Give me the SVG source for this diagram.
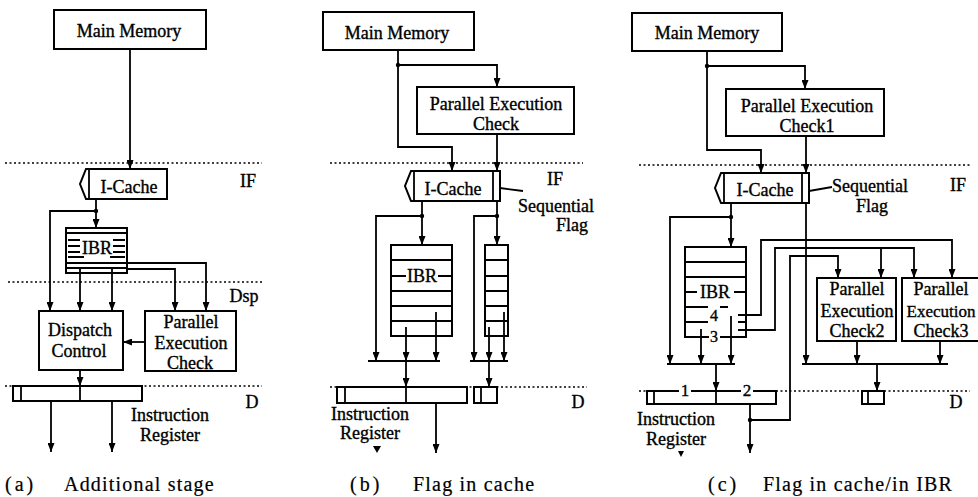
<svg xmlns="http://www.w3.org/2000/svg" width="978" height="497" viewBox="0 0 978 497">
<defs>
<style>
.box{fill:none;stroke:#000;stroke-width:2}
.ln{fill:none;stroke:#000;stroke-width:1.8}
.arr{marker-end:url(#ah)}
.dl{fill:none;stroke:#000;stroke-width:1.5;stroke-dasharray:2 2.5}
text{font-family:"Liberation Serif","Times New Roman",serif;font-size:18px;fill:#000;stroke:#000;stroke-width:0.35}
.c{text-anchor:middle}
.cap{font-size:20px;letter-spacing:1.2px;stroke-width:0.2}
.par{font-size:20px;letter-spacing:3px;stroke-width:0.2}
.dg{font-size:16px}
</style>
<marker id="ah" viewBox="0 0 9 7" refX="9" refY="3.5" markerWidth="9" markerHeight="7" markerUnits="userSpaceOnUse" orient="auto"><path d="M0,0 L9,3.5 L0,7 Z" fill="#000"/></marker>
</defs>
<rect width="978" height="497" fill="#fff"/>

<!-- stage separators -->
<g id="stage-lines">
<path class="dl" d="M5,163 H262 M8,282 H262 M5,386 H262"/>
<path class="dl" d="M330,163 H583 M330,387 H587"/>
<path class="dl" d="M639,165 H970 M639,391 H647 M776,391 H862 M884,391 H970"/>
</g>

<!-- ===== (a) ===== -->
<g id="a-mainmem"><rect class="box" x="54" y="10" width="152" height="39"/><text class="c" x="129" y="37">Main Memory</text></g>
<g id="a-icache"><polygon class="box" points="86,169 167,169 167,199 86,199 80,184"/><line class="ln" x1="89" y1="169" x2="89" y2="199"/><text class="c" x="129" y="193">I-Cache</text></g>
<g id="a-ibr"><rect class="box" x="66" y="228" width="61" height="45"/>
<path class="ln" d="M66,233 H127 M66,263 H127 M66,268 H127 M68,240 H80 M68,246 H80 M68,252 H80 M68,257 H84 M113,240 H125 M113,246 H125 M113,252 H125 M110,257 H125"/>
<text class="c" x="97" y="254">IBR</text></g>
<g id="a-dispatch"><rect class="box" x="39" y="311" width="84" height="59"/><text class="c" x="80" y="336">Dispatch</text><text class="c" x="79" y="357">Control</text></g>
<g id="a-pec"><rect class="box" x="145" y="311" width="91" height="60"/><text class="c" x="191" y="328">Parallel</text><text class="c" x="191" y="349">Execution</text><text class="c" x="190" y="369">Check</text></g>
<g id="a-ir"><rect class="box" x="13" y="386" width="129" height="15"/><line class="ln" x1="21" y1="386" x2="21" y2="401"/></g>
<g id="a-labels"><text class="c" x="170" y="421">Instruction</text><text class="c" x="170" y="441">Register</text>
<text class="c" x="248" y="187">IF</text><text class="c" x="244" y="302">Dsp</text><text class="c" x="252" y="408">D</text>
<text class="par" x="5" y="491">(a)</text><text class="cap" x="64" y="491">Additional stage</text></g>

<!-- ===== (b) ===== -->
<g id="b-mainmem"><rect class="box" x="323" y="12" width="151" height="38"/><text class="c" x="397" y="39">Main Memory</text></g>
<g id="b-pec"><rect class="box" x="417" y="87" width="157" height="47"/><text class="c" x="496" y="110">Parallel Execution</text><text class="c" x="496" y="130">Check</text></g>
<g id="b-icache"><polygon class="box" points="411,171 500,171 500,201 411,201 405,186"/><line class="ln" x1="414" y1="171" x2="414" y2="201"/><line class="ln" x1="493" y1="171" x2="493" y2="201"/><text class="c" x="453" y="195">I-Cache</text></g>
<g id="b-ibr"><rect class="box" x="391" y="245" width="61" height="91"/>
<path class="ln" d="M391,260 H452 M391,291 H452 M391,306 H452 M391,321 H452 M391,276 H406 M438,276 H452"/>
<text class="c" x="422" y="282">IBR</text></g>
<g id="b-flagstack"><rect class="box" x="485" y="245" width="23" height="91"/>
<path class="ln" d="M485,260 H508 M485,276 H508 M485,291 H508 M485,306 H508 M485,321 H508"/></g>
<g id="b-ir"><rect class="box" x="337" y="387" width="130" height="16"/><line class="ln" x1="345" y1="387" x2="345" y2="403"/></g>
<g id="b-flagreg"><rect class="box" x="474" y="387" width="23" height="16"/><line class="ln" x1="481" y1="387" x2="481" y2="403"/></g>
<g id="b-labels"><text class="c" x="370" y="420">Instruction</text><text class="c" x="370" y="439">Register</text>
<polygon points="373,446 381,446 377,453" fill="#000"/>
<text class="c" x="555" y="185">IF</text><text class="c" x="556" y="212">Sequential</text><text class="c" x="572" y="231">Flag</text><text class="c" x="578" y="408">D</text>
<text class="par" x="350" y="491">(b)</text><text class="cap" x="413" y="491">Flag in cache</text></g>

<!-- ===== (c) ===== -->
<g id="c-mainmem"><rect class="box" x="632" y="13" width="150" height="38"/><text class="c" x="707" y="39">Main Memory</text></g>
<g id="c-pec1"><rect class="box" x="726" y="89" width="158" height="47"/><text class="c" x="807" y="112">Parallel Execution</text><text class="c" x="807" y="132">Check1</text></g>
<g id="c-icache"><polygon class="box" points="721,173 809,173 809,203 721,203 715,188"/><line class="ln" x1="724" y1="173" x2="724" y2="203"/><line class="ln" x1="802" y1="173" x2="802" y2="203"/><text class="c" x="765" y="196">I-Cache</text></g>
<g id="c-ibr"><path class="box" d="M709,337 H685 V247 H746 V337 H720"/>
<path class="ln" d="M685,262 H746 M685,277 H746 M685,292 H697 M734,292 H746 M685,307 H708 M720,307 H728 M685,322 H708 M738,322 H746"/>
<text class="c" x="715" y="298">IBR</text><text class="c dg" x="714" y="321">4</text><text class="c dg" x="714" y="342">3</text></g>
<g id="c-pec2"><rect class="box" x="817" y="278" width="79" height="63"/><text class="c" x="857" y="295">Parallel</text><text class="c" x="857" y="317">Execution</text><text class="c" x="857" y="337">Check2</text></g>
<g id="c-pec3"><rect class="box" x="902" y="278" width="90" height="63"/><text class="c" x="941" y="295">Parallel</text><text class="c" x="941" y="317" style="font-size:17px">Execution</text><text class="c" x="941" y="337">Check3</text></g>
<g id="c-ir"><path class="box" d="M679,391 H647 V404 H776 V391 H753 M741,391 H691"/><line class="ln" x1="654" y1="391" x2="654" y2="404"/>
<text class="c" x="685" y="396" style="font-size:17px">1</text><text class="c" x="747" y="396" style="font-size:17px">2</text></g>
<g id="c-flagreg"><rect class="box" x="862" y="391" width="22" height="13"/><line class="ln" x1="868" y1="391" x2="868" y2="404"/></g>
<g id="c-labels"><text class="c" x="676" y="425">Instruction</text><text class="c" x="676" y="445">Register</text>
<polygon points="678,451 684,451 681,457" fill="#000"/>
<text class="c" x="958" y="191">IF</text><text class="c" x="870" y="192">Sequential</text><text class="c" x="872" y="212">Flag</text><text class="c" x="956" y="408">D</text>
<text class="par" x="708" y="491">(c)</text><text class="cap" x="763" y="491">Flag in cache/in IBR</text></g>

<!-- ===== connectors ===== -->
<g id="connectors">
<!-- (a) -->
<path class="ln arr" d="M130,49 V169"/>
<path class="ln arr" d="M96,199 V228"/>
<path class="ln arr" d="M96,211 H50 V311"/>
<path class="ln arr" d="M80,268 V311"/>
<path class="ln arr" d="M112,268 V311"/>
<path class="ln arr" d="M127,263 H206 V311"/>
<path class="ln arr" d="M127,269 H175 V311"/>
<path class="ln arr" d="M145,342 H123"/>
<path class="ln arr" d="M80,370 V386"/>
<path class="ln" d="M80,386 V401"/>
<path class="ln arr" d="M51,401 V452"/>
<path class="ln arr" d="M112,401 V452"/>
<circle cx="96" cy="211" r="2.2"/>
<!-- (b) -->
<path class="ln arr" d="M398,50 V147 H452 V171"/>
<path class="ln arr" d="M398,65 H497 V87"/>
<path class="ln arr" d="M497,134 V171"/>
<path class="ln arr" d="M422,201 V245"/>
<path class="ln arr" d="M422,216 H376 V361"/>
<path class="ln arr" d="M497,201 V245"/>
<path class="ln arr" d="M497,216 H474 V361"/>
<path class="ln arr" d="M406,327 V361"/>
<path class="ln arr" d="M436,312 V361"/>
<path class="ln" d="M368,361 H440"/>
<path class="ln arr" d="M406,361 V387"/>
<path class="ln" d="M406,387 V403"/>
<path class="ln arr" d="M436,403 V453"/>
<path class="ln arr" d="M489,327 V361"/>
<path class="ln arr" d="M504,312 V361"/>
<path class="ln" d="M470,361 H508"/>
<path class="ln arr" d="M489,361 V387"/>
<path class="ln" d="M500,188 L523,191"/>
<circle cx="398" cy="65" r="2.2"/><circle cx="422" cy="216" r="2.2"/><circle cx="497" cy="216" r="2.2"/>
<!-- (c) -->
<path class="ln arr" d="M707,51 V150 H761 V173"/>
<path class="ln arr" d="M707,66 H805 V89"/>
<path class="ln arr" d="M806,136 V173"/>
<path class="ln arr" d="M806,203 V364"/>
<path class="ln" d="M809,191 L832,187"/>
<path class="ln arr" d="M731,203 V247"/>
<path class="ln arr" d="M731,217 H670 V364"/>
<path class="ln arr" d="M738,315 H761 V240 H952 V278"/>
<path class="ln arr" d="M738,330 H775 V248 H914 V278"/>
<path class="ln arr" d="M881,248 V278"/>
<path class="ln arr" d="M750,420 H790 V256 H838 V278"/>
<path class="ln arr" d="M750,404 V453"/>
<path class="ln arr" d="M731,316 V364"/>
<path class="ln arr" d="M701,329 V364"/>
<path class="ln" d="M667,364 H735"/>
<path class="ln arr" d="M716,364 V391"/>
<path class="ln" d="M716,391 V404"/>
<path class="ln arr" d="M857,341 V364"/>
<path class="ln arr" d="M940,341 V364"/>
<path class="ln" d="M802,364 H948"/>
<path class="ln arr" d="M877,364 V391"/>
<circle cx="707" cy="66" r="2.2"/><circle cx="731" cy="217" r="2.2"/><circle cx="750" cy="420" r="2.2"/>
</g>
</svg>
